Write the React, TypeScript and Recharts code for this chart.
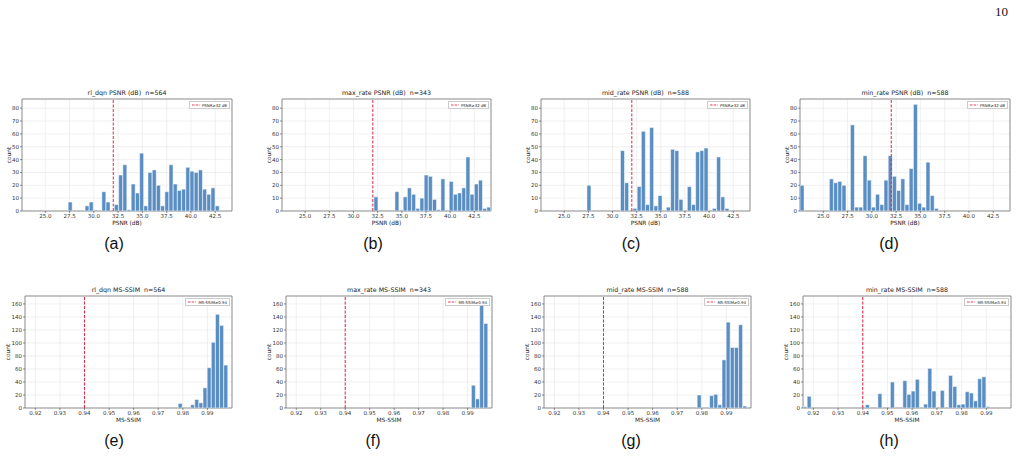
import React from 'react';
import { BarChart, Bar, XAxis, YAxis, CartesianGrid, ReferenceLine, ReferenceArea } from 'recharts';

// ---------- data ----------
const PSNR_BINS = [
  22.82, 23.25, 23.68, 24.11, 24.55, 24.98, 25.41, 25.84, 26.28, 26.71,
  27.14, 27.57, 28.01, 28.44, 28.87, 29.31, 29.74, 30.17, 30.60, 31.04,
  31.47, 31.90, 32.33, 32.77, 33.20, 33.63, 34.06, 34.50, 34.93, 35.36,
  35.79, 36.23, 36.66, 37.09, 37.53, 37.96, 38.39, 38.82, 39.26, 39.69,
  40.12, 40.55, 40.99, 41.42, 41.85, 42.28, 42.72, 43.15, 43.58, 44.01,
];
const SSIM_BINS = [
  0.91664, 0.91833, 0.92001, 0.92170, 0.92338, 0.92506, 0.92675, 0.92843, 0.93012, 0.93180,
  0.93348, 0.93517, 0.93685, 0.93854, 0.94022, 0.94190, 0.94359, 0.94527, 0.94696, 0.94864,
  0.95032, 0.95201, 0.95369, 0.95538, 0.95706, 0.95874, 0.96043, 0.96211, 0.96380, 0.96548,
  0.96716, 0.96885, 0.97053, 0.97222, 0.97390, 0.97558, 0.97727, 0.97895, 0.98064, 0.98232,
  0.98400, 0.98569, 0.98737, 0.98906, 0.99074, 0.99242, 0.99411, 0.99579, 0.99748, 0.99916,
];
const PSNR_TICKS = [25.0, 27.5, 30.0, 32.5, 35.0, 37.5, 40.0, 42.5];
const SSIM_TICKS = [0.92, 0.93, 0.94, 0.95, 0.96, 0.97, 0.98, 0.99];
const PSNR_Y_TICKS = [0, 10, 20, 30, 40, 50, 60, 70, 80];
const SSIM_Y_TICKS = [0, 20, 40, 60, 80, 100, 120, 140, 160];
const PSNR_DOMAIN = [22.6, 44.23];
const SSIM_DOMAIN = [0.9158, 1.0];
const PSNR_YMAX = 87.15;
const SSIM_YMAX = 172.2;
const PSNR_THR = 32;
const SSIM_THR = 0.94;

const RL_DQN_PSNR = [
  0, 0, 0, 0, 0, 0, 0, 0, 0, 0,
  0, 7, 0, 0, 0, 4, 7, 0, 0, 15,
  7, 0, 5, 28, 36, 1, 21, 14, 45, 4,
  30, 32, 20, 4, 15, 36, 21, 16, 17, 34,
  31, 30, 32, 17, 13, 18, 4, 0, 0, 0,
];
const MAX_RATE_PSNR = [
  0, 0, 0, 0, 0, 0, 0, 0, 0, 0,
  0, 0, 0, 0, 0, 0, 0, 0, 0, 0,
  0, 0, 11, 0, 0, 0, 0, 15, 0, 11,
  18, 13, 2, 10, 28, 27, 9, 1, 25, 0,
  23, 13, 14, 18, 42, 13, 21, 24, 2, 3,
];
const MID_RATE_PSNR = [
  0, 0, 0, 0, 0, 0, 0, 0, 0, 0,
  0, 20, 0, 0, 0, 0, 0, 0, 0, 47,
  22, 0, 2, 19, 62, 5, 65, 4, 12, 0,
  3, 48, 47, 9, 0, 19, 5, 46, 47, 49,
  0, 2, 42, 11, 2, 0, 0, 0, 0, 0,
];
const MIN_RATE_PSNR = [
  20, 0, 0, 0, 0, 0, 0, 25, 22, 23,
  20, 0, 67, 3, 3, 43, 24, 3, 13, 5,
  24, 43, 27, 16, 25, 5, 33, 83, 6, 3,
  38, 12, 2, 0, 0, 0, 0, 0, 0, 0,
  0, 0, 0, 0, 0, 0, 0, 0, 0, 0,
];
const RL_DQN_SSIM = [
  0, 0, 0, 0, 0, 0, 0, 0, 0, 0,
  0, 0, 0, 0, 0, 0, 0, 0, 0, 0,
  0, 0, 0, 0, 0, 0, 0, 0, 0, 0,
  0, 0, 0, 0, 0, 0, 0, 7, 0, 0,
  5, 13, 8, 31, 62, 101, 144, 127, 66, 0,
];
const MAX_RATE_SSIM = [
  0, 0, 0, 0, 0, 0, 0, 0, 0, 0,
  0, 0, 0, 0, 0, 0, 0, 0, 0, 0,
  0, 0, 0, 0, 0, 0, 0, 0, 0, 0,
  0, 0, 0, 0, 0, 0, 0, 0, 0, 0,
  0, 0, 0, 0, 0, 35, 14, 164, 130, 0,
];
const MID_RATE_SSIM = [
  0, 0, 0, 0, 0, 0, 0, 0, 0, 0,
  0, 0, 0, 0, 0, 0, 0, 0, 0, 0,
  0, 0, 0, 0, 0, 0, 0, 0, 0, 0,
  0, 0, 0, 0, 0, 0, 0, 20, 0, 0,
  19, 21, 5, 74, 132, 93, 93, 128, 3, 0,
];
const MIN_RATE_SSIM = [
  2, 18, 0, 0, 0, 0, 0, 0, 0, 0,
  0, 0, 0, 0, 0, 5, 0, 0, 22, 0,
  0, 40, 0, 0, 42, 21, 26, 44, 0, 6,
  61, 26, 0, 27, 0, 50, 33, 5, 6, 25,
  23, 11, 45, 48, 2, 0, 0, 0, 0, 0,
];

const TITLES = [
  'rl_dqn PSNR (dB)  n=564', 'max_rate PSNR (dB)  n=343', 'mid_rate PSNR (dB)  n=588', 'min_rate PSNR (dB)  n=588',
  'rl_dqn MS-SSIM  n=564', 'max_rate MS-SSIM  n=343', 'mid_rate MS-SSIM  n=588', 'min_rate MS-SSIM  n=588',
];
const SUB_LABELS = ['(a)', '(b)', '(c)', '(d)', '(e)', '(f)', '(g)', '(h)'];
const PSNR_XLABEL = 'PSNR (dB)';
const SSIM_XLABEL = 'MS-SSIM';
const PSNR_LEGEND = 'PSNR≥32 dB';
const SSIM_LEGEND = 'MS-SSIM≥0.94';
const Y_LABEL = 'count';
const PAGE_NUMBER = '10';

// ---------- layout ----------
const LAYOUT = [
  { left: 22, right: 232, top: 99, h: 112, subX: 114, subY: 244, yOff: 13 },
  { left: 282, right: 491, top: 99, h: 112, subX: 373, subY: 244, yOff: 13 },
  { left: 541, right: 750, top: 99, h: 112, subX: 631, subY: 244, yOff: 13 },
  { left: 800, right: 1010, top: 99, h: 112, subX: 889, subY: 244, yOff: 13 },
  { left: 25, right: 232, top: 296, h: 112, subX: 114, subY: 441, yOff: 17 },
  { left: 286, right: 492, top: 296, h: 112, subX: 373, subY: 441, yOff: 17 },
  { left: 544, right: 751, top: 296, h: 112, subX: 631, subY: 441, yOff: 17 },
  { left: 803, right: 1011, top: 296, h: 112, subX: 889, subY: 441, yOff: 17 },
];

const MPL_FONT = '"DejaVu Sans", sans-serif';
const BAR_COLOR = '#5a8ec2';
const THR_COLOR = '#dc2a4a';

type PanelCfg = {
  title: string; xLabel: string; legend: string; bins: number[]; counts: number[];
  domain: number[]; xTicks: number[]; yTicks: number[]; yMax: number; thr: number;
  fmt: (v: number) => string; lay: typeof LAYOUT[number]; sub: string;
};

function Panel({ cfg }: { cfg: PanelCfg }) {
  const YW = 22, MT = 4, MR = 4, XH = 14;
  const { lay } = cfg;
  const plotW = lay.right - lay.left;
  const data = cfg.bins.map((x, i) => ({ x, count: cfg.counts[i] }));
  const tickStyle = { fontSize: 5.5, fill: '#333', fontFamily: MPL_FONT };
  const cx = (lay.left + lay.right) / 2;
  return (
    <>
      <div style={{ position: 'absolute', left: lay.left - YW, top: lay.top - MT }}>
        <BarChart
          width={plotW + YW + MR}
          height={lay.h + MT + XH}
          data={data}
          margin={{ top: MT, right: MR, left: 0, bottom: 0 }}
          barCategoryGap={0}
          barGap={0}
        >
          <CartesianGrid stroke="#e6e6e6" strokeWidth={0.6} />
          <XAxis
            dataKey="x"
            type="number"
            domain={cfg.domain}
            ticks={cfg.xTicks}
            interval={0}
            allowDataOverflow
            height={XH}
            tickSize={2}
            tickMargin={1}
            tick={tickStyle}
            tickFormatter={cfg.fmt}
            axisLine={false}
            tickLine={{ stroke: '#444', strokeWidth: 0.6 }}
          />
          <YAxis
            type="number"
            domain={[0, cfg.yMax]}
            ticks={cfg.yTicks}
            interval={0}
            allowDataOverflow
            width={YW}
            tickSize={2}
            tickMargin={1}
            tick={tickStyle}
            axisLine={false}
            tickLine={{ stroke: '#444', strokeWidth: 0.6 }}
          />
          <Bar dataKey="count" fill={BAR_COLOR} stroke="#ffffff" strokeWidth={0.5} isAnimationActive={false} />
          <ReferenceLine x={cfg.thr} stroke={THR_COLOR} strokeWidth={1} strokeDasharray="3 1.5" />
          <ReferenceArea
            x1={cfg.domain[0]}
            x2={cfg.domain[1]}
            y1={0}
            y2={cfg.yMax}
            fill="none"
            fillOpacity={0}
            stroke="#777"
            strokeWidth={0.8}
            ifOverflow="visible"
          />
        </BarChart>
      </div>
      <div style={{ position: 'absolute', left: cx - 100, width: 200, top: lay.top - 10, height: 8, lineHeight: '8px', textAlign: 'center', fontFamily: MPL_FONT, fontSize: 6.3, color: '#222', whiteSpace: 'pre' }}>
        {cfg.title}
      </div>
      <div style={{ position: 'absolute', left: cx - 50, width: 100, top: lay.top + lay.h + 8, height: 8, lineHeight: '8px', textAlign: 'center', fontFamily: MPL_FONT, fontSize: 5.8, color: '#222' }}>
        {cfg.xLabel}
      </div>
      <div style={{ position: 'absolute', left: lay.left - lay.yOff - 20, width: 40, top: lay.top + lay.h / 2 - 4, height: 8, lineHeight: '8px', textAlign: 'center', fontFamily: MPL_FONT, fontSize: 5.8, color: '#222', transform: 'rotate(-90deg)' }}>
        {Y_LABEL}
      </div>
      <div style={{ position: 'absolute', right: 1028 - lay.right + 2, top: lay.top + 2, border: '0.6px solid #ccc', background: '#fff', padding: '0.5px 2px', display: 'flex', alignItems: 'center', gap: 2, height: 5 }}>
        <svg width={8} height={4}>
          <line x1={0} y1={2} x2={8} y2={2} stroke={THR_COLOR} strokeWidth={0.9} strokeDasharray="2.5 1.2" />
        </svg>
        <span style={{ fontFamily: MPL_FONT, fontSize: 3.9, color: '#222', lineHeight: '5px', whiteSpace: 'nowrap' }}>{cfg.legend}</span>
      </div>
      <div style={{ position: 'absolute', left: lay.subX - 30, width: 60, top: lay.subY - 10, height: 20, lineHeight: '20px', textAlign: 'center', fontFamily: '"Liberation Sans", Arial, sans-serif', fontSize: 16, color: '#111' }}>
        {cfg.sub}
      </div>
    </>
  );
}

export default function App() {
  const psnrFmt = (v: number) => v.toFixed(1);
  const ssimFmt = (v: number) => v.toFixed(2);
  const psnrSets = [RL_DQN_PSNR, MAX_RATE_PSNR, MID_RATE_PSNR, MIN_RATE_PSNR];
  const ssimSets = [RL_DQN_SSIM, MAX_RATE_SSIM, MID_RATE_SSIM, MIN_RATE_SSIM];
  const panels: PanelCfg[] = [];
  psnrSets.forEach((counts, i) => {
    panels.push({
      title: TITLES[i], xLabel: PSNR_XLABEL, legend: PSNR_LEGEND, bins: PSNR_BINS, counts,
      domain: PSNR_DOMAIN, xTicks: PSNR_TICKS, yTicks: PSNR_Y_TICKS, yMax: PSNR_YMAX, thr: PSNR_THR,
      fmt: psnrFmt, lay: LAYOUT[i], sub: SUB_LABELS[i],
    });
  });
  ssimSets.forEach((counts, i) => {
    panels.push({
      title: TITLES[4 + i], xLabel: SSIM_XLABEL, legend: SSIM_LEGEND, bins: SSIM_BINS, counts,
      domain: SSIM_DOMAIN, xTicks: SSIM_TICKS, yTicks: SSIM_Y_TICKS, yMax: SSIM_YMAX, thr: SSIM_THR,
      fmt: ssimFmt, lay: LAYOUT[4 + i], sub: SUB_LABELS[4 + i],
    });
  });
  return (
    <div style={{ position: 'absolute', left: 0, top: 0, width: 1028, height: 465, background: '#fff', overflow: 'hidden' }}>
      <div style={{ position: 'absolute', left: 995, top: 3, width: 30, height: 18, lineHeight: '18px', fontFamily: '"Liberation Serif", "DejaVu Serif", serif', fontSize: 13, color: '#111' }}>
        {PAGE_NUMBER}
      </div>
      {panels.map((p, i) => (
        <Panel key={i} cfg={p} />
      ))}
    </div>
  );
}
